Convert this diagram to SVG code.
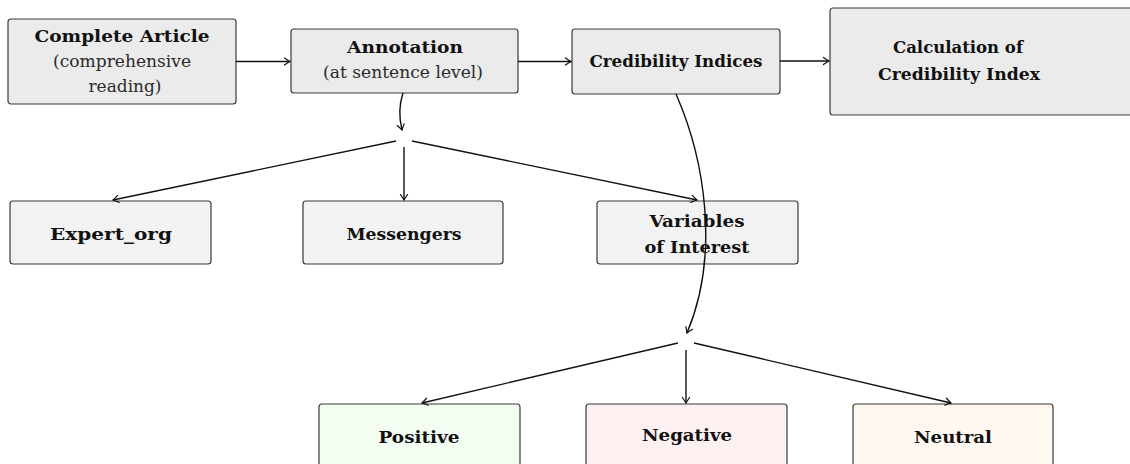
<svg xmlns="http://www.w3.org/2000/svg" width="1130" height="464" viewBox="0 0 1130 464">
<style>
.box{stroke:#3a3a3a;stroke-width:1.2}
.top{fill:#ebebeb}
.mid{fill:#f2f2f2}
.pos{fill:#f3fdf2}
.neg{fill:#fdf0f0}
.neu{fill:#fef8f1}
text{font-family:"DejaVu Serif","Liberation Serif",serif;fill:#111;text-anchor:middle}
.b{font-weight:bold;font-size:17px}
.n{font-size:17px;fill:#2a2a2a}
.c{fill:none;stroke:#111;stroke-width:1.4}
</style>
<defs>
<marker id="arr" markerUnits="userSpaceOnUse" markerWidth="12" markerHeight="12" viewBox="-7 -6 8 12" refX="0" refY="0" orient="auto">
<path d="M-5.5,-3.6 Q-1.6,-0.9 0,0 Q-1.6,0.9 -5.5,3.6" fill="none" stroke="#111" stroke-width="1.2" stroke-linecap="round"/>
</marker>
</defs>
<g id="complete-article">
<rect class="box top" x="8" y="19" width="228" height="85" rx="3"/>
<text class="b" x="122" y="42" textLength="175" lengthAdjust="spacingAndGlyphs">Complete Article</text>
<text class="n" x="122" y="67" textLength="138" lengthAdjust="spacingAndGlyphs">(comprehensive</text>
<text class="n" x="125" y="92" textLength="73" lengthAdjust="spacingAndGlyphs">reading)</text>
</g>
<g id="annotation">
<rect class="box top" x="291" y="29" width="227" height="64" rx="3"/>
<text class="b" x="405" y="53" textLength="116" lengthAdjust="spacingAndGlyphs">Annotation</text>
<text class="n" x="403" y="78" textLength="160" lengthAdjust="spacingAndGlyphs">(at sentence level)</text>
</g>
<g id="credibility-indices">
<rect class="box top" x="572" y="29" width="208" height="65" rx="3"/>
<text class="b" x="676" y="67" textLength="173" lengthAdjust="spacingAndGlyphs">Credibility Indices</text>
</g>
<g id="calculation">
<rect class="box top" x="830" y="8" width="310" height="107" rx="3"/>
<text class="b" x="958" y="53" textLength="130" lengthAdjust="spacingAndGlyphs">Calculation of</text>
<text class="b" x="959" y="80" textLength="162" lengthAdjust="spacingAndGlyphs">Credibility Index</text>
</g>
<g id="expert-org">
<rect class="box mid" x="10" y="201" width="201" height="63" rx="3"/>
<text class="b" x="111" y="240" textLength="122" lengthAdjust="spacingAndGlyphs">Expert_org</text>
</g>
<g id="messengers">
<rect class="box mid" x="303" y="201" width="200" height="63" rx="3"/>
<text class="b" x="404" y="240" textLength="115" lengthAdjust="spacingAndGlyphs">Messengers</text>
</g>
<g id="variables">
<rect class="box mid" x="597" y="201" width="201" height="63" rx="3"/>
<text class="b" x="697" y="227" textLength="95" lengthAdjust="spacingAndGlyphs">Variables</text>
<text class="b" x="697" y="253" textLength="105" lengthAdjust="spacingAndGlyphs">of Interest</text>
</g>
<g id="positive">
<rect class="box pos" x="319" y="404" width="201" height="80" rx="3"/>
<text class="b" x="419" y="443" textLength="81" lengthAdjust="spacingAndGlyphs">Positive</text>
</g>
<g id="negative">
<rect class="box neg" x="586" y="404" width="201" height="80" rx="3"/>
<text class="b" x="687" y="441" textLength="90" lengthAdjust="spacingAndGlyphs">Negative</text>
</g>
<g id="neutral">
<rect class="box neu" x="853" y="404" width="200" height="80" rx="3"/>
<text class="b" x="953" y="443" textLength="78" lengthAdjust="spacingAndGlyphs">Neutral</text>
</g>
<g id="connectors">
<path class="c" d="M236,61.5 L290,61.5" marker-end="url(#arr)"/>
<path class="c" d="M518,61.5 L571,61.5" marker-end="url(#arr)"/>
<path class="c" d="M780,61 L829,61" marker-end="url(#arr)"/>
<path class="c" d="M403,93 C399,105 399,118 402,130" marker-end="url(#arr)"/>
<path class="c" d="M396,141 L113,200" marker-end="url(#arr)"/>
<path class="c" d="M404,147 L404,200" marker-end="url(#arr)"/>
<path class="c" d="M412,141 L697,200" marker-end="url(#arr)"/>
<path class="c" d="M676,94 C705,160 720,255 687,333" marker-end="url(#arr)"/>
<path class="c" d="M678,343 L422,403" marker-end="url(#arr)"/>
<path class="c" d="M686,350 L686,403" marker-end="url(#arr)"/>
<path class="c" d="M694,343 L951,403" marker-end="url(#arr)"/>
</g>
</svg>
